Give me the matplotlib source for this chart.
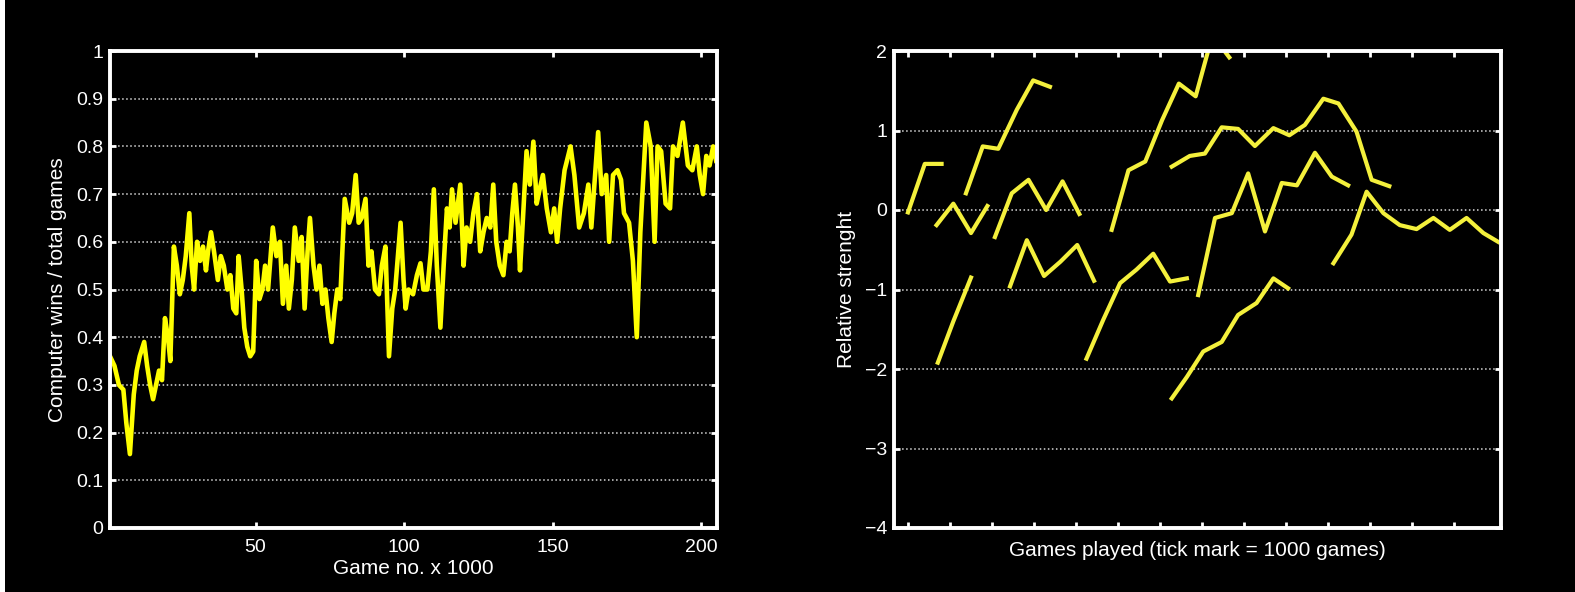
import matplotlib
matplotlib.use("Agg")
import matplotlib.pyplot as plt
from matplotlib.patches import Rectangle
import numpy as np

plt.rcParams['font.family'] = ['Liberation Sans', 'DejaVu Sans']

# ---------------- Left panel data ----------------
games_k = [1, 2.5, 4, 5.5, 6.5, 7.7, 9, 10, 11, 12.5, 13.5, 14.5, 15.5, 16.5, 17.5, 18.5,
           19.5, 20.5, 21.3, 22.5, 23.5, 24.5, 25.5, 26.5, 27.7, 28.5, 29.3, 30.3, 31.3,
           32.3, 33.3, 34, 35, 36, 37.3, 38.3, 39.3, 40.5, 41.5, 42.5, 43.5, 44.3, 45.3,
           46.2, 47.2, 48.2, 49.2, 50.2, 51.3, 52.3, 53.2, 54.2, 55.8, 57, 58.2, 59.2,
           60.3, 61.2, 62.2, 63.2, 64.5, 65.5, 66.5, 67.5, 68.3, 69.5, 70.5, 71.5, 72.5,
           73.5, 74.5, 75.6, 76.5, 77.5, 78.5, 80, 81.5, 82.5, 83.7, 84.7, 85.7, 87, 88,
           89, 90.2, 91.5, 92.5, 93.7, 94.9, 96, 97, 98.8, 99.8, 100.5, 101.5, 103, 104.3,
           105.5, 106.5, 107.8, 109, 110, 111, 112.2, 113.3, 114.4, 115.3, 116.1, 117.3,
           118.9, 120, 121, 122.2, 123.3, 124.5, 125.6, 126.7, 127.8, 129, 130, 131,
           132.2, 133.4, 134.5, 135.5, 136.4, 137.3, 138.3, 139, 140, 141.2, 142.3, 143.5,
           144.6, 145.6, 146.7, 148, 149.4, 150.5, 151.5, 152.5, 154, 156, 157.3, 158.9,
           160.5, 162, 163, 165.3, 166.5, 168, 169, 170.3, 171.8, 173, 174, 175.7, 177,
           178.3, 179.5, 181.5, 183, 184.3, 185.3, 186.5, 188, 189.5, 190.5, 192, 193.8,
           195.5, 197, 198.5, 199.5, 200.6, 201.7, 202.8, 204, 205]
win_ratio = [0.36, 0.34, 0.30, 0.29, 0.22, 0.155, 0.28, 0.33, 0.36, 0.39, 0.34, 0.30, 0.27,
             0.30, 0.33, 0.31, 0.44, 0.40, 0.35, 0.59, 0.55, 0.49, 0.52, 0.57, 0.66, 0.55,
             0.50, 0.60, 0.56, 0.59, 0.54, 0.58, 0.62, 0.58, 0.52, 0.57, 0.55, 0.50, 0.53,
             0.46, 0.45, 0.57, 0.50, 0.42, 0.38, 0.36, 0.37, 0.56, 0.48, 0.50, 0.55, 0.50,
             0.63, 0.57, 0.60, 0.47, 0.55, 0.46, 0.52, 0.63, 0.56, 0.61, 0.46, 0.58, 0.65,
             0.55, 0.50, 0.55, 0.47, 0.50, 0.44, 0.39, 0.45, 0.50, 0.48, 0.69, 0.64, 0.66,
             0.74, 0.64, 0.65, 0.69, 0.55, 0.58, 0.50, 0.49, 0.55, 0.59, 0.36, 0.46, 0.50,
             0.64, 0.52, 0.46, 0.50, 0.49, 0.53, 0.555, 0.50, 0.50, 0.58, 0.71, 0.55, 0.42,
             0.55, 0.67, 0.63, 0.71, 0.64, 0.72, 0.55, 0.63, 0.60, 0.66, 0.70, 0.58, 0.62,
             0.65, 0.63, 0.72, 0.60, 0.55, 0.53, 0.60, 0.58, 0.66, 0.72, 0.63, 0.54, 0.65,
             0.79, 0.72, 0.81, 0.68, 0.71, 0.74, 0.67, 0.62, 0.67, 0.60, 0.67, 0.75, 0.80,
             0.74, 0.63, 0.66, 0.72, 0.63, 0.83, 0.70, 0.74, 0.60, 0.74, 0.75, 0.73, 0.66,
             0.64, 0.56, 0.40, 0.62, 0.85, 0.80, 0.60, 0.80, 0.79, 0.68, 0.67, 0.80, 0.78,
             0.85, 0.76, 0.75, 0.80, 0.74, 0.70, 0.78, 0.76, 0.80, 0.77]
left_xticks = [50, 100, 150, 200]
left_yticks = [0, 0.1, 0.2, 0.3, 0.4, 0.5, 0.6, 0.7, 0.8, 0.9, 1]
left_yticklabels = ['0', '0.1', '0.2', '0.3', '0.4', '0.5', '0.6', '0.7', '0.8', '0.9', '1']

# ---------------- Right panel data (x in tick units: 1 tick = 1000 games) ----------------
seg_a_x = [1.0, 1.4, 1.8]
seg_a_y = [-0.03, 0.58, 0.58]
seg_b_x = [2.38, 2.78, 3.15, 3.59, 3.98, 4.38]
seg_b_y = [0.21, 0.80, 0.77, 1.26, 1.63, 1.55]
seg_c_x = [1.68, 2.08, 2.5, 2.89]
seg_c_y = [-0.19, 0.08, -0.29, 0.05]
seg_d_x = [3.07, 3.47, 3.87, 4.29, 4.68, 5.08]
seg_d_y = [-0.34, 0.21, 0.38, 0.0, 0.36, -0.05]
seg_e_x = [3.43, 3.83, 4.24, 4.63, 5.03, 5.43]
seg_e_y = [-0.96, -0.38, -0.83, -0.65, -0.44, -0.89]
seg_f_x = [1.71, 2.08, 2.5]
seg_f_y = [-1.92, -1.40, -0.85]
seg_g_x = [5.85, 6.25, 6.65, 7.05, 7.45, 7.85, 8.25, 8.65]
seg_g_y = [-0.25, 0.50, 0.61, 1.13, 1.59, 1.43, 2.2, 1.92]
seg_h_x = [7.28, 7.71, 8.07, 8.47, 8.86, 9.26, 9.70, 10.08, 10.45, 10.89, 11.25, 11.68, 12.04, 12.46]
seg_h_y = [0.545, 0.68, 0.71, 1.04, 1.02, 0.805, 1.03, 0.94, 1.07, 1.40, 1.34, 0.985, 0.38, 0.30]
seg_i_x = [7.91, 8.31, 8.71, 9.10, 9.50, 9.90, 10.26, 10.69, 11.09, 11.48]
seg_i_y = [-1.07, -0.10, -0.04, 0.46, -0.27, 0.34, 0.31, 0.72, 0.42, 0.31]
seg_j_x = [11.13, 11.56, 11.92, 12.32, 12.71, 13.11, 13.51, 13.90, 14.30, 14.70, 15.05]
seg_j_y = [-0.67, -0.31, 0.23, -0.04, -0.19, -0.24, -0.10, -0.25, -0.10, -0.29, -0.40]
seg_k_x = [5.25, 5.65, 6.05, 6.44, 6.84, 7.24, 7.64]
seg_k_y = [-1.87, -1.38, -0.92, -0.75, -0.55, -0.90, -0.86]
seg_l_x = [7.28, 7.64, 8.03, 8.47, 8.86, 9.30, 9.70, 10.05]
seg_l_y = [-2.37, -2.10, -1.78, -1.66, -1.32, -1.17, -0.86, -0.985]
right_xticks = [1, 2, 3, 4, 5, 6, 7, 8, 9, 10, 11, 12, 13, 14]
right_yticks = [-4, -3, -2, -1, 0, 1, 2]

segments = [(seg_a_x, seg_a_y), (seg_b_x, seg_b_y), (seg_c_x, seg_c_y), (seg_d_x, seg_d_y),
            (seg_e_x, seg_e_y), (seg_f_x, seg_f_y), (seg_g_x, seg_g_y), (seg_h_x, seg_h_y),
            (seg_i_x, seg_i_y), (seg_j_x, seg_j_y), (seg_k_x, seg_k_y), (seg_l_x, seg_l_y)]

W, H = 1575, 592
fig = plt.figure(figsize=(W / 100, H / 100), dpi=100, facecolor='black')
fig.patches.append(Rectangle((0, 0), 5 / W, 1, transform=fig.transFigure,
                             facecolor='white', edgecolor='none'))

ax_l = fig.add_axes([110 / W, 1 - 528 / H, (717 - 110) / W, (528 - 51) / H])
ax_r = fig.add_axes([894 / W, 1 - 528 / H, (1501 - 894) / W, (528 - 51) / H])

def style(ax):
    ax.set_facecolor('black')
    for s in ax.spines.values():
        s.set_color('white')
        s.set_linewidth(2.8)
    ax.tick_params(direction='in', colors='white', length=4, width=2,
                   top=True, right=True, labelsize=14)
    ax.yaxis.grid(True, color='#d8d8d8', linestyle=':', linewidth=1.1)
    ax.set_axisbelow(True)

style(ax_l)
ax_l.plot(games_k, win_ratio, color='#ffff00', linewidth=3.3)
ax_l.set_xlim(1, 205.3)
ax_l.set_ylim(0, 1)
ax_l.set_xticks(left_xticks)
ax_l.set_yticks(left_yticks)
ax_l.set_yticklabels(left_yticklabels)
ax_l.tick_params(axis='x', pad=8)
ax_l.tick_params(axis='y', pad=5)
ax_l.set_xlabel('Game no. x 1000', color='white', fontsize=15, labelpad=2)
ax_l.set_ylabel('Computer wins / total games', color='white', fontsize=15, labelpad=6)

style(ax_r)
for sx, sy in segments:
    ax_r.plot(sx, sy, color='#f4f03c', linewidth=3.0)
ax_r.set_xlim(0.667, 15.12)
ax_r.set_ylim(-4, 2)
ax_r.set_xticks(right_xticks)
ax_r.set_xticklabels([])
ax_r.set_yticks(right_yticks)
ax_r.tick_params(axis='y', pad=5)
ax_r.set_xlabel('Games played (tick mark = 1000 games)', color='white', fontsize=15, labelpad=6)
ax_r.set_ylabel('Relative strenght', color='white', fontsize=15, labelpad=6)

fig.savefig('out.png', dpi=100, facecolor='black')
